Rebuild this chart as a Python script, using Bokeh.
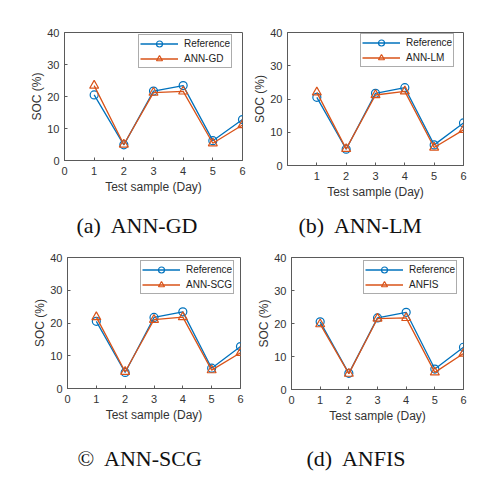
from bokeh.plotting import figure
from bokeh.models import FixedTicker, Range1d, Legend, LegendItem
from bokeh.layouts import column, row
from bokeh.embed import file_html
from bokeh.resources import INLINE

# ---- data ----
days = [1, 2, 3, 4, 5, 6]
reference = [20.5, 4.9, 21.7, 23.4, 6.2, 12.8]
ann_gd = [23.4, 5.0, 21.2, 21.6, 5.4, 11.1]
ann_lm = [22.0, 5.0, 21.2, 22.3, 5.4, 10.7]
ann_scg = [21.8, 5.1, 21.0, 21.8, 5.6, 10.9]
anfis = [19.8, 4.8, 21.5, 21.7, 5.2, 10.9]
x_ticks_full = [0, 1, 2, 3, 4, 5, 6]
x_ticks_short = [1, 2, 3, 4, 5, 6]
y_ticks = [0, 10, 20, 30, 40]

BLUE = "#0072BD"
ORANGE = "#D95319"
AX = "#5a5a5a"
TXT = "#333333"
SANS = "Liberation Sans"


def panel(model, name, caption, xt, fw, fh, bl, br, bt, bb, leg_xy, cap_off, cap_stand):
    p = figure(frame_width=fw, frame_height=fh,
               x_range=Range1d(0, 6), y_range=Range1d(0, 40),
               output_backend="svg", toolbar_location=None,
               title=caption, title_location="below",
               min_border_left=bl, min_border_right=br,
               min_border_top=bt, min_border_bottom=bb)
    p.grid.visible = False
    p.outline_line_color = AX
    p.background_fill_color = "white"
    p.border_fill_color = "white"

    p.xaxis.ticker = FixedTicker(ticks=xt)
    p.yaxis.ticker = FixedTicker(ticks=y_ticks)
    p.xaxis.axis_label = "Test sample (Day)"
    p.yaxis.axis_label = "SOC (%)"
    for ax in (p.xaxis[0], p.yaxis[0]):
        ax.axis_line_color = AX
        ax.major_tick_line_color = AX
        ax.major_tick_in = 3
        ax.major_tick_out = 0
        ax.minor_tick_line_color = None
        ax.major_label_text_font = SANS
        ax.major_label_text_font_size = "11px"
        ax.major_label_text_color = TXT
        ax.axis_label_text_font = SANS
        ax.axis_label_text_font_size = "12px"
        ax.axis_label_text_font_style = "normal"
        ax.axis_label_text_color = TXT
    p.xaxis.major_label_standoff = 6
    p.xaxis.axis_label_standoff = 2
    p.yaxis.major_label_standoff = 5
    p.yaxis.axis_label_standoff = 0

    l1 = p.line(days, reference, line_color=BLUE, line_width=1.3)
    s1 = p.scatter(days, reference, marker="circle", size=8,
                   line_color=BLUE, fill_color=None, line_width=1.2)
    l2 = p.line(days, model, line_color=ORANGE, line_width=1.3)
    s2 = p.scatter(days, model, marker="triangle", size=9,
                   line_color=ORANGE, fill_color=None, line_width=1.2)

    legend = Legend(items=[LegendItem(label="Reference", renderers=[l1, s1]),
                           LegendItem(label=name, renderers=[l2, s2])],
                    location=leg_xy, margin=0, padding=1, spacing=-2,
                    glyph_width=38, glyph_height=15, label_height=15,
                    label_standoff=6,
                    label_text_font=SANS, label_text_font_size="10px",
                    label_text_color="#222222",
                    border_line_color=AX, border_line_width=1,
                    background_fill_color="white", background_fill_alpha=1)
    p.add_layout(legend)

    p.title.text_font = "Liberation Serif"
    p.title.text_font_size = "22px"
    p.title.text_font_style = "normal"
    p.title.text_color = "#111111"
    p.title.align = "left"
    p.title.offset = cap_off
    p.title.standoff = cap_stand
    return p


pa = panel(ann_gd, "ANN-GD", "(a)\u00a0 ANN-GD", x_ticks_full,
           178, 128, 64, 8, 31, 89, (74, 92), 12, 29)
pb = panel(ann_lm, "ANN-LM", "(b)\u00a0 ANN-LM", x_ticks_short,
           176, 133, 36, 20, 32, 83, (73, 98), 11, 18)
pc = panel(ann_scg, "ANN-SCG", "\u00a9\u00a0 ANN-SCG", x_ticks_full,
           173, 131, 67, 14, 6, 90, (73, 94), 10, 38)
pd = panel(anfis, "ANFIS", "(d)\u00a0 ANFIS", x_ticks_full,
           172, 132, 36, 20, 5, 90, (72, 95), 15, 37)

layout = column(row(pa, pb, spacing=0), row(pc, pd, spacing=0), spacing=0)

open("out.html", "w").write(file_html(layout, INLINE))
